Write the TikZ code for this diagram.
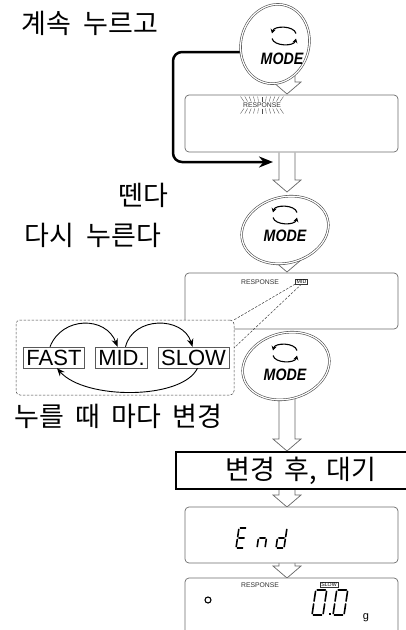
\documentclass[tikz,border=0pt]{standalone}
\usepackage{fontspec}
\setmainfont{Liberation Sans}
\newfontfamily\krfont{Noto Sans CJK KR}
\usetikzlibrary{arrows.meta,shapes.geometric,calc}

\newcommand\dgx{0}\newcommand\dgy{0}\newcommand\dgw{8}\newcommand\dgh{20}\newcommand\dgs{0.15}\newcommand\dgg{1.4}
\newcommand\segline[4]{\draw[seg] ({\dgx+(#1)+\dgs*(#2)},{\dgy-(#2)}) -- ({\dgx+(#3)+\dgs*(#4)},{\dgy-(#4)});}
\newcommand\segA{\segline{\dgg}{\dgh}{\dgw-\dgg}{\dgh}}
\newcommand\segB{\segline{\dgw}{\dgh-\dgg}{\dgw}{\dgh/2+\dgg}}
\newcommand\segC{\segline{\dgw}{\dgh/2-\dgg}{\dgw}{\dgg}}
\newcommand\segD{\segline{\dgg}{0}{\dgw-\dgg}{0}}
\newcommand\segE{\segline{0}{\dgg}{0}{\dgh/2-\dgg}}
\newcommand\segF{\segline{0}{\dgh/2+\dgg}{0}{\dgh-\dgg}}
\newcommand\segG{\segline{\dgg}{\dgh/2}{\dgw-\dgg}{\dgh/2}}
\newcommand\harrow[2]{\draw[hollow] let \p1=(#1), \p2=(#2) in
  (\x1-8pt,\y1) -- (\x1-8pt,\y2+12pt) -- (\x1-14pt,\y2+12pt) -- (\x2,\y2)
  -- (\x1+14pt,\y2+12pt) -- (\x1+8pt,\y2+12pt) -- (\x1+8pt,\y1);}

\begin{document}
\begin{tikzpicture}[x=1pt,y=-1pt,
 kr/.style={font=\krfont\fontsize{27}{27}\selectfont, inner sep=0pt},
 disp/.style={draw=gray!85!black, line width=0.7pt, rounded corners=4pt, minimum width=213pt, inner sep=0pt, fill=white},
 btn/.style={ellipse, draw=gray!60!black, line width=0.6pt, double=white, double distance=1.2pt, fill=white, inner sep=0pt},
 hollow/.style={draw=gray!80!black, line width=0.7pt, fill=white, line join=miter},
 modetxt/.style={font=\fontsize{16.5}{16.5}\selectfont\bfseries\itshape, inner sep=0pt},
 tiny/.style={font=\fontsize{6.8}{6.8}\selectfont, inner sep=0pt, text=black!80},
 tinybox/.style={font=\fontsize{5.2}{5.2}\selectfont, draw=black!80, line width=0.4pt, inner xsep=1.4pt, inner ysep=0.6pt},
 lbl/.style={draw=gray!70!black, line width=0.6pt, font=\fontsize{22}{22}\selectfont, inner xsep=3pt, inner ysep=2.5pt, text height=15.8pt, text depth=0pt},
 curarr/.style={line width=0.9pt, -{Stealth[length=8pt,width=6.5pt]}},
 seg/.style={line width=1.6pt, line cap=round},
 spark/.style={line width=0.35pt, gray!60!black},
 iconst/.style={line width=1.1pt, -{Stealth[length=4.5pt,width=5pt]}},
 bigconn/.style={line width=2.5pt, rounded corners=9pt, -{Stealth[length=14pt,width=11pt]}},
 grpbox/.style={draw=black!75, dashed, dash pattern=on 2.5pt off 1.5pt, line width=0.5pt, rounded corners=4pt, fill=white, minimum width=218pt, minimum height=75pt, inner sep=0pt},
 dline/.style={draw=black!75, dash pattern=on 2.5pt off 1.5pt, line width=0.5pt},
 modeicon/.pic={
   \draw[iconst] (12,-2.5) .. controls (10,-10.5) and (-10,-10.5) .. (-12,-2.5);
   \draw[iconst] (-12,2.5) .. controls (-10,10.5) and (10,10.5) .. (12,2.5);
 }
]
\useasboundingbox (0,0) rectangle (406,630);
\fill[white] (0,0) rectangle (406,630);

% texts
\node[kr, anchor=west] (t1) at (21,23) {계속\hspace{.47em}누르고};
\node[kr] (t2) at (143,195) {뗀다};
\node[kr, anchor=west] (t3) at (24,235) {다시\hspace{.47em}누른다};
\node[kr, anchor=west] (t4) at (14,416) {누를\hspace{.42em}때\hspace{.42em}마다\hspace{.42em}변경};

% hollow arrows
\coordinate (a1s) at (287,70);    \coordinate (a1e) at (287,94);
\coordinate (a2s) at (287,152.5); \coordinate (a2e) at (287,192);
\coordinate (a3s) at (287,250);   \coordinate (a3e) at (287,272);
\coordinate (a4s) at (287,390);   \coordinate (a4e) at (287,451);
\coordinate (a5s) at (287,489);   \coordinate (a5e) at (287,507);
\coordinate (a6s) at (287,563);   \coordinate (a6e) at (287,578);
\harrow{a1s}{a1e}
\harrow{a2s}{a2e}
\harrow{a3s}{a3e}
\harrow{a4s}{a4e}
\harrow{a5s}{a5e}
\harrow{a6s}{a6e}

% black connector
\coordinate (bc0) at (252,52);
\coordinate (bcw) at (173,107);
\coordinate (bc1) at (273,162);
\draw[bigconn] (bc0) -| (bcw) |- (bc1);

% MODE buttons
\node[btn, minimum width=68pt, minimum height=80pt, rotate=-15] (m1) at (275,44) {};
\pic at (284,36) {modeicon};
\node[modetxt] (mt1) at (282,59) {\scalebox{0.86}[1]{MODE}};

\node[btn, minimum width=88pt, minimum height=66pt, rotate=15] (m2) at (285,230) {};
\pic at (285,215) {modeicon};
\node[modetxt] (mt2) at (285,236) {\scalebox{0.86}[1]{MODE}};

% displays
\node[disp, minimum height=57pt] (d1) at (291.5,123.5) {};
\node[tiny] (r1) at (262,105) {RESPONSE};
\foreach \i in {-5,...,5} {
  \draw[spark] ({262+3.6*\i},101.5) -- ({262+4.3*\i},96.5);
  \draw[spark] ({262+3.6*\i},108.5) -- ({262+4.3*\i},113.5);
}

\node[disp, minimum height=56pt] (d2) at (291.5,301) {};
\node[tiny] (r2) at (260,282) {RESPONSE};
\node[tinybox] (mids) at (301.5,281.5) {MID};

% group of speeds
\node[grpbox] (grp) at (125,357.5) {};
\draw[dline] (mids.south west) -- (grp.north east);
\draw[dline] (mids.south) -- ([yshift=-28pt]grp.north east);
\node[lbl] (fast) at (54,357.5) {FAST};
\node[lbl] (mid) at (121.5,357.5) {MID.};
\node[lbl] (slow) at (193.5,357.5) {SLOW};
\draw[curarr] ([xshift=-4pt]fast.north) .. controls (62,316) and (106,316) .. ([xshift=-4pt]mid.north);
\draw[curarr] ([xshift=4pt]mid.north) .. controls (133,316) and (183,316) .. ([xshift=-1pt]slow.north);
\draw[curarr] ([xshift=4pt]slow.south) .. controls (182,400) and (85,400) .. ([xshift=3pt]fast.south);

\node[btn, minimum width=88pt, minimum height=66pt, rotate=15] (m3) at (286,366) {};
\pic at (285,353) {modeicon};
\node[modetxt] (mt3) at (285,375) {\scalebox{0.86}[1]{MODE}};

% wait box
\node[draw, line width=1.2pt, minimum width=250pt, minimum height=37pt, inner sep=0pt,
      font=\krfont\fontsize{27}{27}\selectfont] (wait) at (301,470.5) {변경\hspace{.35em}후,\hspace{.35em}대기};

% End display
\node[disp, minimum height=56pt] (d3) at (291.5,535) {};
\renewcommand\dgy{548}\renewcommand\dgh{20}\renewcommand\dgw{8}
\renewcommand\dgx{236}\segA\segD\segE\segF\segG
\renewcommand\dgx{257}\segC\segE\segG
\renewcommand\dgx{276}\segB\segC\segD\segE\segG

% final display
\node[disp, minimum height=72pt] (d4) at (291.5,614) {};
\node[tiny] (r4) at (260,585) {RESPONSE};
\node[tinybox] (slows) at (329,585) {SLOW};
\node[circle, draw, line width=1.1pt, minimum size=6pt, inner sep=0pt] (deg) at (208,600) {};
\renewcommand\dgy{615}\renewcommand\dgh{25}\renewcommand\dgw{11}
\renewcommand\dgx{312}\segA\segB\segC\segD\segE\segF
\renewcommand\dgx{333}\segA\segB\segC\segD\segE\segF
\fill (328.8,612.8) rectangle (331,615);
\node[font=\fontsize{11}{11}\selectfont, anchor=base, inner sep=0pt] (gunit) at (366,619) {g};
\end{tikzpicture}
\end{document}
